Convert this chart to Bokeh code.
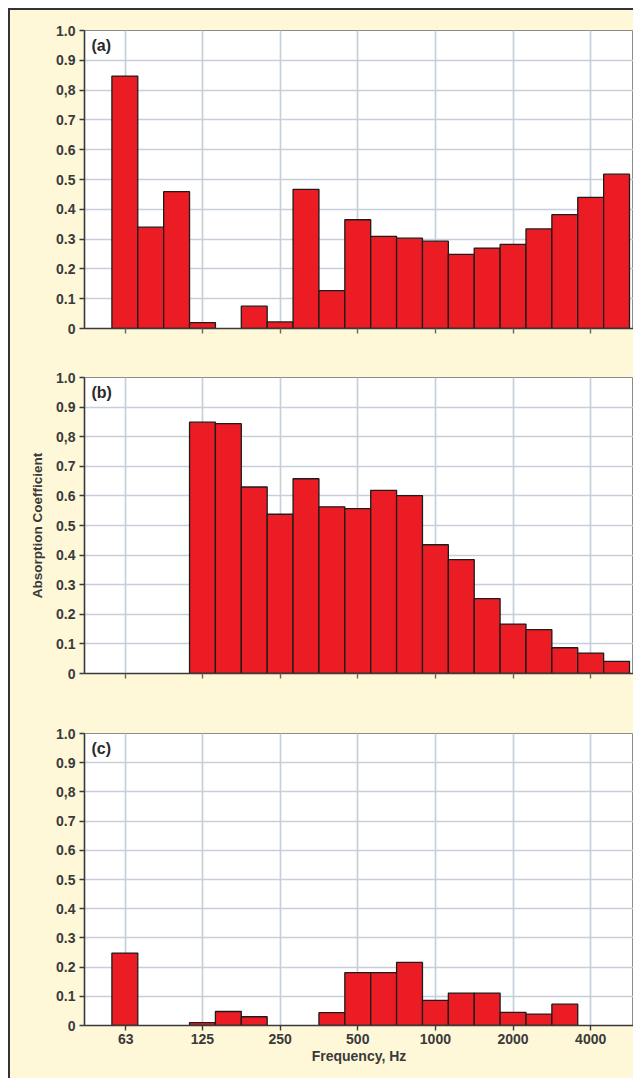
import math
from bokeh.plotting import figure
from bokeh.models import FixedTicker, Range1d, Label, ColumnDataSource
from bokeh.layouts import column
from bokeh.embed import file_html
from bokeh.resources import INLINE

# ---------------- data ----------------
bands = [63, 80, 100, 125, 160, 200, 250, 315, 400, 500, 630, 800, 1000,
         1250, 1600, 2000, 2500, 3150, 4000, 5000]
absorption_a = [0.847, 0.34, 0.459, 0.02, 0.0, 0.075, 0.022, 0.467, 0.127, 0.365,
                0.309, 0.303, 0.293, 0.249, 0.27, 0.282, 0.334, 0.382, 0.44, 0.518]
absorption_b = [0.0, 0.0, 0.0, 0.849, 0.844, 0.630, 0.538, 0.658, 0.563, 0.557,
                0.619, 0.601, 0.435, 0.385, 0.253, 0.167, 0.148, 0.087, 0.069, 0.041]
absorption_c = [0.248, 0.0, 0.0, 0.01, 0.048, 0.03, 0.0, 0.0, 0.044, 0.181,
                0.181, 0.216, 0.086, 0.111, 0.111, 0.045, 0.039, 0.073, 0.0, 0.0]
panel_labels = ["(a)", "(b)", "(c)"]
x_ticks = [63, 125, 250, 500, 1000, 2000, 4000]
x_tick_labels = ["63", "125", "250", "500", "1000", "2000", "4000"]
y_ticks = [0, 0.1, 0.2, 0.3, 0.4, 0.5, 0.6, 0.7, 0.8, 0.9, 1.0]
y_tick_labels = ["0", "0.1", "0.2", "0.3", "0.4", "0.5", "0.6", "0.7", "0,8", "0.9", "1.0"]
x_title = "Frequency, Hz"
y_title = "Absorption Coefficient"

# ---------------- style ----------------
CREAM = "#fef8d8"
RED = "#ec1c24"
GRID = "#c6d0da"
DARK = "#3a3a3a"
FONT = "Liberation Sans"
X_START, X_END = 43.6, 5862

def band_source(values):
    left, right, top = [], [], []
    for f, v in zip(bands, values):
        if v <= 0:
            continue
        k = round(3 * math.log2(f / 1000.0))
        c = 1000.0 * 2 ** (k / 3.0)
        left.append(c * 2 ** (-1 / 6))
        right.append(c * 2 ** (1 / 6))
        top.append(v)
    return ColumnDataSource(dict(left=left, right=right, top=top, bottom=[0] * len(top)))

def make_panel(values, label, height, top_b, bottom_b, show_x, show_ytitle):
    p = figure(width=623, height=height, x_axis_type="log",
               x_range=Range1d(X_START, X_END), y_range=Range1d(0, 1.0),
               toolbar_location=None, output_backend="svg",
               min_border_left=74, min_border_right=0,
               min_border_top=top_b, min_border_bottom=bottom_b)
    p.background_fill_color = "white"
    p.border_fill_color = CREAM
    p.outline_line_color = "#8c8c8c"
    p.outline_line_width = 1

    p.quad(left="left", right="right", bottom="bottom", top="top",
           source=band_source(values), fill_color=RED,
           line_color="#1c1c1c", line_width=1.3)

    # axes
    p.xaxis.ticker = FixedTicker(ticks=x_ticks)
    p.xgrid.ticker = FixedTicker(ticks=x_ticks)
    p.yaxis.ticker = FixedTicker(ticks=y_ticks)
    p.ygrid.ticker = FixedTicker(ticks=y_ticks)
    p.yaxis.major_label_overrides = {t: s for t, s in zip(y_ticks, y_tick_labels)}
    if show_x:
        p.xaxis.major_label_overrides = {t: s for t, s in zip(x_ticks, x_tick_labels)}
        p.xaxis.axis_label = x_title
    else:
        p.xaxis.major_label_overrides = {t: "" for t in x_ticks}
    if show_ytitle:
        p.yaxis.axis_label = y_title

    for ax in (p.xaxis[0], p.yaxis[0]):
        ax.axis_line_color = DARK
        ax.axis_line_width = 1.6
        ax.major_tick_line_color = DARK
        ax.major_tick_line_width = 1.4
        ax.major_tick_out = 5
        ax.major_tick_in = 0
        ax.minor_tick_line_color = None
        ax.major_label_text_font = FONT
        ax.major_label_text_font_size = "14px"
        ax.major_label_text_font_style = "bold"
        ax.major_label_text_color = DARK
        ax.major_label_standoff = 4
        ax.axis_label_text_font = FONT
        ax.axis_label_text_font_size = "14px"
        ax.axis_label_text_font_style = "bold"
        ax.axis_label_text_color = DARK
    p.xaxis.axis_label_standoff = 1
    p.xaxis.major_label_standoff = 3
    p.yaxis.axis_label_standoff = 8
    p.yaxis.axis_label_text_font_size = "13.5px"
    if not show_x:
        p.xaxis.major_tick_line_color = "#666666"

    for g in (p.xgrid[0], p.ygrid[0]):
        g.grid_line_color = GRID
        g.grid_line_width = 1.7

    p.add_layout(Label(x=X_START, y=1.0, x_offset=7, y_offset=-6, text=label,
                       text_baseline="top", text_align="left",
                       text_font=FONT, text_font_size="16px",
                       text_font_style="bold", text_color="#2a2a2a"))
    return p

pa = make_panel(absorption_a, panel_labels[0], 348, 20, 30, False, False)
pb = make_panel(absorption_b, panel_labels[1], 345, 19, 30, False, True)
pc = make_panel(absorption_c, panel_labels[2], 375, 30, 53, True, False)

layout = column(pa, pb, pc, spacing=0,
                styles={"background-color": CREAM,
                        "margin-left": "8px",
                        "margin-top": "8px",
                        "border-left": "2px solid #333333",
                        "border-top": "2px solid #333333"})

open("out.html", "w").write(file_html(layout, INLINE))
